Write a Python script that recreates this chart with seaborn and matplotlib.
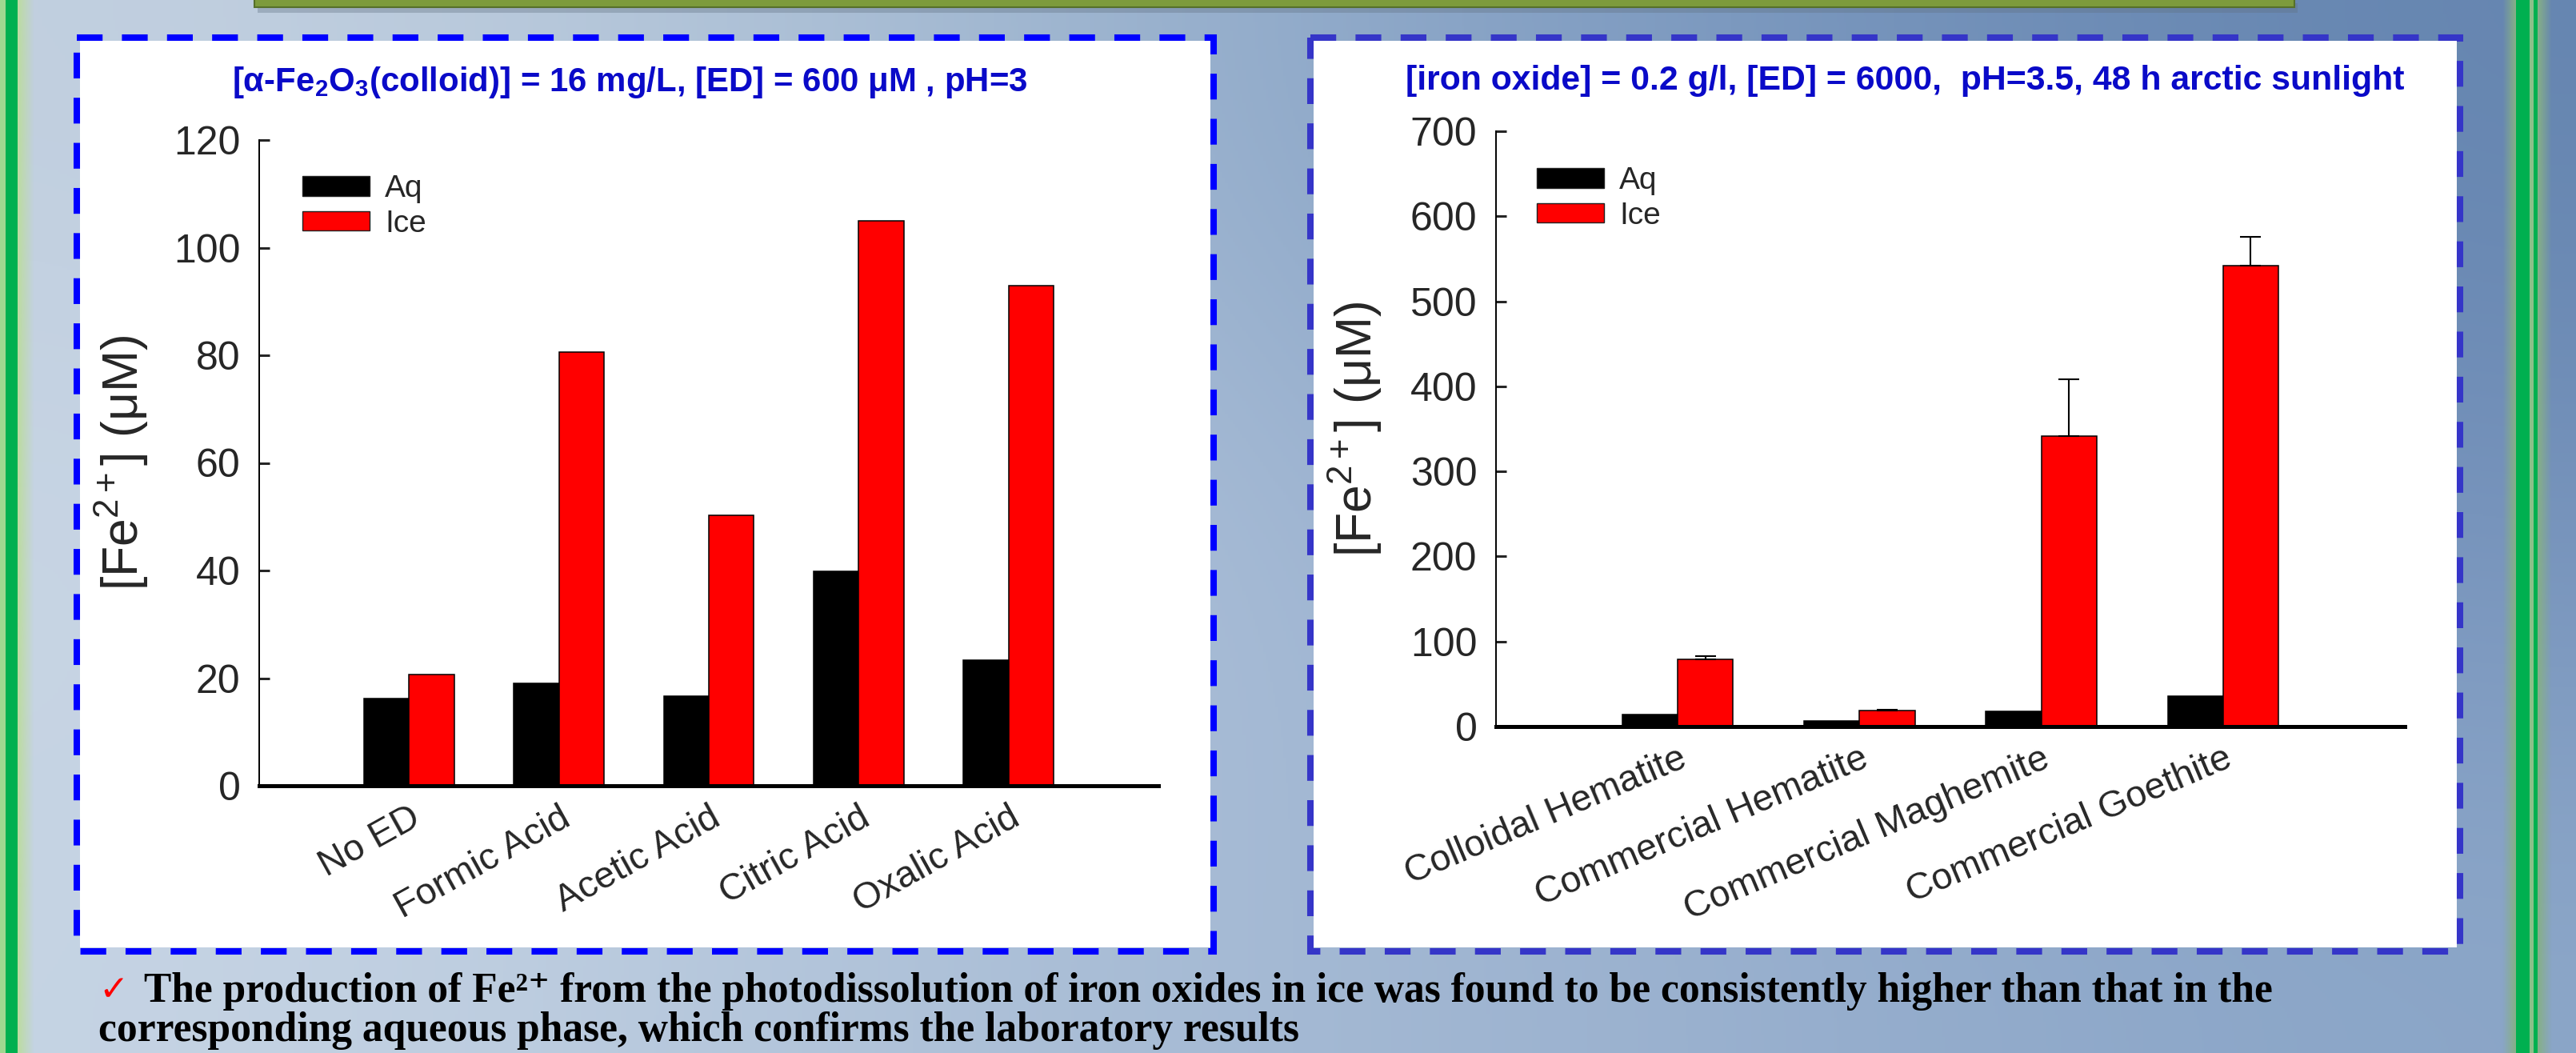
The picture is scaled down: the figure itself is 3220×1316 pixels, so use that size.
import numpy as np
import pandas as pd
import matplotlib
matplotlib.use("Agg")
import matplotlib.pyplot as plt
import matplotlib.patches as mpatches
from matplotlib import font_manager
from matplotlib.colors import to_rgb
import seaborn as sns

ed_names = ["No ED", "Formic Acid", "Acetic Acid", "Citric Acid", "Oxalic Acid"]
ed_aq = [16.2, 19.0, 16.7, 39.9, 23.4]
ed_ice = [20.6, 80.6, 50.3, 105.0, 93.0]

oxide_names = ["Colloidal Hematite", "Commercial Hematite",
               "Commercial Maghemite", "Commercial Goethite"]
oxide_aq = [14.0, 6.7, 17.6, 36.0]
oxide_ice = [78.8, 18.4, 342.0, 541.5]
oxide_ice_err = [4.0, 1.6, 66.0, 34.0]

phases = ["Aq", "Ice"]
phase_colors = {"Aq": "black", "Ice": "red"}

left_title = r"[α-Fe$_\mathbf{2}$O$_\mathbf{3}$(colloid)] = 16 mg/L, [ED] = 600 μM , pH=3"
right_title = "[iron oxide] = 0.2 g/l, [ED] = 6000,  pH=3.5, 48 h arctic sunlight"
ylabel = r"[Fe$^{2+}$] (μM)"
note_1 = "The production of Fe²⁺ from the photodissolution of iron oxides in ice was found to be consistently higher than that in the"
note_2 = "corresponding aqueous phase, which confirms the laboratory results"


def have_font(name):
    try:
        font_manager.findfont(font_manager.FontProperties(family=name), fallback_to_default=False)
        return True
    except ValueError:
        return False


sns.set_style("white")
plt.rcParams["font.family"] = ["Liberation Sans", "DejaVu Sans"]
plt.rcParams["mathtext.fontset"] = "custom"
plt.rcParams["mathtext.rm"] = "Liberation Sans"
plt.rcParams["mathtext.it"] = "Liberation Sans:italic"
plt.rcParams["mathtext.bf"] = "Liberation Sans:bold"
title_family = "Liberation Sans Narrow" if have_font("Liberation Sans Narrow") else "Liberation Sans"

W, H = 3220, 1316
fig = plt.figure(figsize=(W / 100, H / 100), dpi=100)

# background layer in pixel coordinates
bg = fig.add_axes([0, 0, 1, 1], zorder=0)
bg.set_xlim(0, W)
bg.set_ylim(H, 0)
bg.axis("off")

grid_hex = [["#c2d0e0", "#a4bad2", "#7f9cc2", "#6585b0"],
            ["#c9d6e5", "#b2c4d9", "#96aed0", "#7592bb"],
            ["#c6d4e4", "#abbfd7", "#9db3d0", "#8ba6c8"]]
grid = np.array([[to_rgb(c) for c in row] for row in grid_hex])
bg.imshow(grid, extent=(0, W, H, 0), aspect="auto", interpolation="bicubic", zorder=0)


def fade(x0, x1, color, reverse=False):
    rgba = np.zeros((1, 32, 4))
    rgba[..., :3] = to_rgb(color)
    a = np.linspace(1, 0, 32)
    rgba[0, :, 3] = a[::-1] if reverse else a
    bg.imshow(rgba, extent=(x0, x1, H, 0), aspect="auto", interpolation="bilinear", zorder=1)


# green side stripes
bg.add_patch(mpatches.Rectangle((0, 0), 7, H, fc="#9fd890", lw=0, zorder=2))
bg.add_patch(mpatches.Rectangle((7, 0), 15, H, fc="#00b050", lw=0, zorder=2))
fade(22, 42, "#bcdca0")
fade(3128, 3145, "#86b086", reverse=True)
bg.add_patch(mpatches.Rectangle((3145, 0), 17, H, fc="#00b050", lw=0, zorder=2))
bg.add_patch(mpatches.Rectangle((3162, 0), 5, H, fc="#8cc08a", lw=0, zorder=2))
bg.add_patch(mpatches.Rectangle((3167, 0), 5, H, fc="#00b050", lw=0, zorder=2))
fade(3172, 3190, "#86b086")

# olive banner edge at top
bg.add_patch(mpatches.Rectangle((322, 4), 2550, 12, fc="#5f6f80", alpha=0.35, lw=0, zorder=2))
bg.add_patch(mpatches.Rectangle((318, -6), 2550, 15, fc="#7d9b3c", ec="#56702a", lw=1.5, zorder=3))

# white panels with dashed frames
bg.add_patch(mpatches.Rectangle((100, 51), 1413, 1133, fc="white", lw=0, zorder=2))
bg.add_patch(mpatches.Rectangle((96, 47), 1421, 1142, fill=False, ec="#0000ff",
                                lw=5.8, ls=(0, (4, 3)), zorder=3))
bg.add_patch(mpatches.Rectangle((1642, 51), 1429, 1133, fc="white", lw=0, zorder=2))
bg.add_patch(mpatches.Rectangle((1638, 47), 1437, 1142, fill=False, ec="#3535c8",
                                lw=5.8, ls=(0, (4, 3)), zorder=3))


def px_axes(x0, y_top, x1, y_bot):
    return fig.add_axes([x0 / W, 1 - y_bot / H, (x1 - x0) / W, (y_bot - y_top) / H], zorder=5)


def fit_width(txt, target_px):
    r = fig.canvas.get_renderer()
    w = txt.get_window_extent(r).width
    txt.set_fontsize(txt.get_fontsize() * target_px / w)


def bar_panel(ax, names, aq, ice, ymax, ystep, width, rot, legend_xy, label_x, err=None):
    df = pd.DataFrame({
        "name": names * 2,
        "phase": ["Aq"] * len(names) + ["Ice"] * len(names),
        "value": list(aq) + list(ice),
    })
    sns.barplot(data=df, x="name", y="value", hue="phase", order=names, hue_order=phases,
                palette=phase_colors, width=width, saturation=1, edgecolor="black",
                linewidth=1.1, legend=False, ax=ax)
    if err is not None:
        bars = ax.containers[1]
        xs = [b.get_x() + b.get_width() / 2 for b in bars]
        tops = [b.get_height() for b in bars]
        ax.errorbar(xs, tops, yerr=[np.zeros(len(err)), err], fmt="none", ecolor="black",
                    elinewidth=1.5, capsize=9.5, capthick=1.5, zorder=4)
    ax.set_xlim(-1, len(names))
    ax.set_ylim(0, ymax)
    ax.set_yticks(np.arange(0, ymax + 1, ystep))
    ax.set_facecolor("none")
    for s in ["top", "right"]:
        ax.spines[s].set_visible(False)
    ax.spines["left"].set_linewidth(1.4)
    ax.spines["bottom"].set_linewidth(3.6)
    ax.spines["left"].set_color("black")
    ax.spines["bottom"].set_color("black")
    ax.tick_params(axis="y", direction="in", length=9.5, width=2.2, labelsize=36, pad=17, left=True)
    ax.tick_params(axis="x", length=0, labelsize=33.5, pad=13)
    for lbl in ax.get_xticklabels():
        lbl.set_rotation(rot)
        lbl.set_ha("right")
        lbl.set_va("top")
        lbl.set_rotation_mode("anchor")
    ax.set_xlabel("")
    ax.set_ylabel(ylabel, fontsize=45)
    ax.yaxis.set_label_coords(label_x, 0.5)
    handles = [mpatches.Patch(fc=phase_colors[p], ec="#222222", lw=1) for p in phases]
    ax.legend(handles, phases, loc="upper left", bbox_to_anchor=legend_xy,
              bbox_transform=bg.transData, frameon=False, fontsize=28, borderpad=0,
              borderaxespad=0, handlelength=2.15, handleheight=0.6, handletextpad=0.5,
              labelspacing=0.2)


ax_l = px_axes(324, 175, 1448, 982)
bar_panel(ax_l, ed_names, ed_aq, ed_ice, 120, 20, 0.6, 29, (378, 218), -0.121)

ax_r = px_axes(1870, 164, 3006, 908)
bar_panel(ax_r, oxide_names, oxide_aq, oxide_ice, 700, 100, 0.61, 23, (1921, 208), -0.123,
          err=oxide_ice_err)

# panel titles
t1 = bg.text(787, 114, left_title, ha="center", va="baseline", color="#0a0ac8",
             fontsize=26, fontweight="bold", family=[title_family, "DejaVu Sans"], zorder=6)
t2 = bg.text(2381, 112, right_title, ha="center", va="baseline", color="#0a0ac8",
             fontsize=26, fontweight="bold", family=[title_family, "DejaVu Sans"], zorder=6)
fit_width(t1, 994)
fit_width(t2, 1250)

# conclusion text at the bottom, two lines kept inside the picture
bg.text(123, 1250, "✓", color="red", fontsize=32, family=["DejaVu Sans"], va="baseline", zorder=6)
n1 = bg.text(180, 1252, note_1, ha="left", va="baseline", fontsize=36, fontweight="bold",
             family=["Liberation Serif", "DejaVu Serif"], color="black", zorder=6)
fit_width(n1, 2660)
bg.text(123, 1301, note_2, ha="left", va="baseline", fontsize=n1.get_fontsize(), fontweight="bold",
        family=["Liberation Serif", "DejaVu Serif"], color="black", zorder=6)

fig.savefig("out.png", dpi=100)
